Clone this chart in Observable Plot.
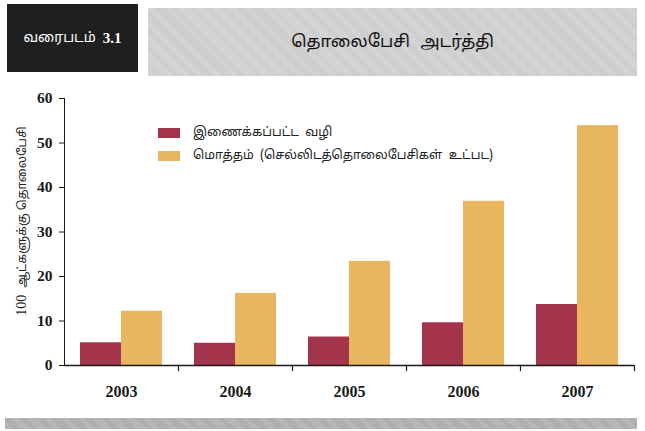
<!DOCTYPE html>
<html>
<head>
<meta charset="utf-8">
<script src="https://cdn.jsdelivr.net/npm/d3@7"></script>
<script src="https://cdn.jsdelivr.net/npm/@observablehq/plot@0.6"></script>
<style>
  html, body { margin: 0; padding: 0; background: #fff; }
  #page { position: relative; width: 645px; height: 431px; overflow: hidden; background: #fff; }
  .tamil { font-family: "Noto Sans Tamil", "Lohit Tamil", "Latha", "Noto Sans", sans-serif; }
  #figbox { position: absolute; left: 7px; top: 4px; width: 131px; height: 68px; background: #1f1f1f;
            color: #fff; display: flex; align-items: center; justify-content: center; font-size: 14px; }
  #figbox .num { font-family: "Liberation Serif", "Times New Roman", serif; font-weight: bold; font-size: 15px; margin-left: 7px; }
  #titlebox { position: absolute; left: 148px; top: 8px; width: 489px; height: 68px;
              background: repeating-linear-gradient(45deg, #d8d8d8 0 1px, #c9c9c9 1px 2px);
              display: flex; align-items: center; justify-content: center; font-size: 17px; color: #111; word-spacing: 6px; }
  #footband { position: absolute; left: 5px; top: 418px; width: 632px; height: 11px;
              background: repeating-linear-gradient(45deg, #bdbdbd 0 1px, #a9a9a9 1px 2px); }
  #chart { position: absolute; left: 0; top: 85px; }
  #legend { position: absolute; left: 158px; top: 121px; font-size: 12.5px; color: #222; word-spacing: 3px; }
  #legend .row { display: flex; align-items: center; height: 23px; }
  #legend .sw { width: 22px; height: 10px; margin-right: 13px; }
  #ylabel { position: absolute; left: 22px; top: 221px; transform: translate(-50%, -50%) rotate(-90deg);
            white-space: nowrap; font-size: 12px; color: #222; }
  #ylabel .num { font-family: "Liberation Serif", "Times New Roman", serif; font-size: 14px; margin-right: 7px; }
</style>
</head>
<body>
<div id="page">
  <div id="figbox"><span class="tamil">வரைபடம்</span><span class="num">3.1</span></div>
  <div id="titlebox"><span class="tamil" id="title"></span></div>
  <div id="chart"></div>
  <div id="legend"></div>
  <div id="ylabel"><span class="num">100</span><span class="tamil">ஆட்களுக்கு தொலைபேசி</span></div>
  <div id="footband"></div>
</div>
<script>
const titleText = "தொலைபேசி அடர்த்தி";
const years = ["2003", "2004", "2005", "2006", "2007"];
const seriesNames = ["இணைக்கப்பட்ட வழி", "மொத்தம் (செல்லிடத்தொலைபேசிகள் உட்பட)"];
const fixedLine = [5.1, 5.0, 6.4, 9.6, 13.7];
const totalPhones = [12.2, 16.2, 23.4, 36.9, 53.9];
const seriesColors = ["#a3344b", "#e8b65e"];
const yTicks = [0, 10, 20, 30, 40, 50, 60];

document.getElementById("title").textContent = titleText;

const data = [];
years.forEach((yr, i) => {
  data.push({year: yr, series: seriesNames[0], value: fixedLine[i]});
  data.push({year: yr, series: seriesNames[1], value: totalPhones[i]});
});

const chart = Plot.plot({
  width: 645,
  height: 330,
  marginTop: 13,
  marginBottom: 50,
  marginLeft: 62,
  marginRight: 10,
  style: {background: "transparent", color: "#1a1a1a", fontFamily: "'Liberation Serif', 'Times New Roman', serif"},
  fx: {domain: years, padding: 0, label: null, tickSize: 0, tickPadding: 20, axis: "bottom"},
  x: {domain: seriesNames, paddingInner: 0, paddingOuter: 0.364, axis: null},
  y: {domain: [0, 60], ticks: yTicks, label: null, tickSize: 5, tickPadding: 7, line: true},
  color: {domain: seriesNames, range: seriesColors},
  marks: [
    Plot.barY(data, {fx: "year", x: "series", y: "value", fill: "series", inset: 0}),
    Plot.ruleY([0], {stroke: "#1a1a1a", strokeWidth: 1.5}),
    Plot.frame({anchor: "right", insetTop: 267, insetBottom: -5, stroke: "#1a1a1a", strokeWidth: 1.2})
  ]
});
document.getElementById("chart").appendChild(chart);

d3.select(chart).selectAll("[aria-label='y-axis tick label']")
  .style("font-size", "15.5px").style("font-weight", "bold");
d3.select(chart).selectAll("[aria-label='fx-axis tick label']")
  .style("font-size", "16px").style("font-weight", "bold");

const legend = d3.select("#legend");
seriesNames.forEach((name, i) => {
  const row = legend.append("div").attr("class", "row");
  row.append("div").attr("class", "sw").style("background", seriesColors[i]);
  row.append("span").attr("class", "tamil").text(name);
});
</script>
</body>
</html>
